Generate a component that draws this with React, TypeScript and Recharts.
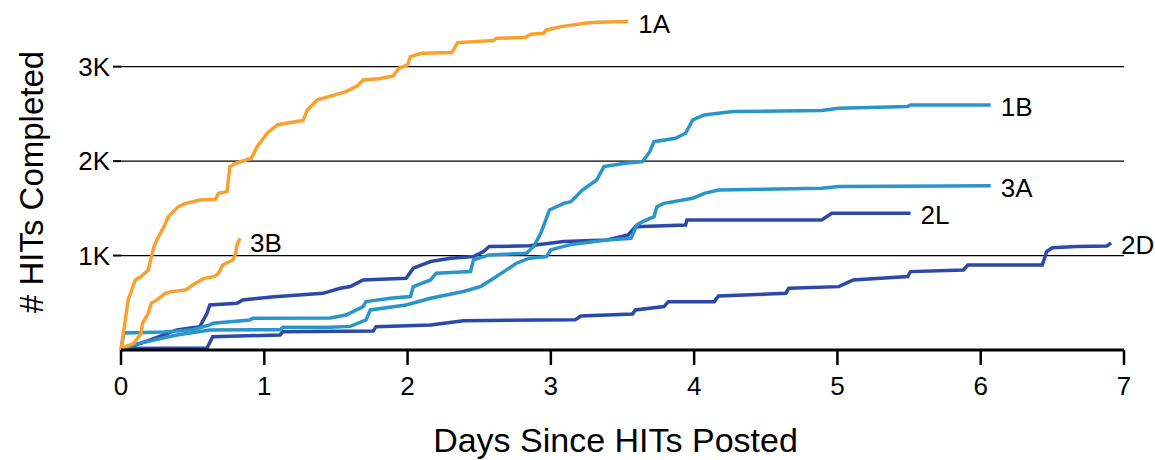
import { CartesianGrid, Line, LineChart, XAxis, YAxis } from "recharts";

// [days since posted, HITs completed]
const series1A = [
  [0, 0], [0.05, 530], [0.1, 741], [0.14, 777], [0.19, 847], [0.23, 1094], [0.25, 1165],
  [0.3, 1306], [0.33, 1412], [0.4, 1518], [0.45, 1553], [0.55, 1589], [0.66, 1596],
  [0.68, 1659], [0.74, 1677], [0.76, 1942], [0.8, 1977], [0.91, 2030], [0.95, 2153],
  [1.02, 2295], [1.09, 2383], [1.15, 2400], [1.27, 2429], [1.3, 2542], [1.37, 2648],
  [1.45, 2683], [1.57, 2736], [1.65, 2796], [1.69, 2859], [1.8, 2873], [1.9, 2902],
  [1.94, 2983], [2.0, 3018], [2.02, 3106], [2.1, 3142], [2.31, 3149], [2.35, 3255],
  [2.6, 3276], [2.62, 3301], [2.82, 3308], [2.86, 3343], [2.95, 3354], [2.97, 3389],
  [3.07, 3424], [3.24, 3459], [3.32, 3470], [3.54, 3477],
];

const series3B = [
  [0, 0], [0.03, 35], [0.09, 71], [0.14, 177], [0.15, 282], [0.19, 388], [0.21, 494],
  [0.25, 530], [0.31, 600], [0.35, 618], [0.45, 635], [0.5, 688], [0.58, 759],
  [0.65, 777], [0.68, 812], [0.71, 900], [0.78, 953], [0.8, 1024], [0.81, 1112], [0.83, 1183],
];

const series1B = [
  [0, 0], [0.02, 180], [0.3, 190], [0.5, 215], [0.62, 265], [0.64, 283], [0.9, 318],
  [0.92, 336], [1.46, 340], [1.57, 371], [1.69, 460], [1.71, 513], [1.88, 548],
  [2.02, 566], [2.04, 672], [2.16, 742], [2.2, 813], [2.44, 831], [2.46, 955],
  [2.57, 1007], [2.83, 1025], [2.88, 1096], [2.93, 1237], [2.97, 1400], [2.99, 1483],
  [3.09, 1553], [3.14, 1571], [3.22, 1694], [3.32, 1800], [3.37, 1942], [3.52, 1977],
  [3.64, 1994], [3.69, 2100], [3.72, 2206], [3.87, 2242], [3.94, 2295], [3.99, 2436],
  [4.07, 2489], [4.27, 2524], [4.89, 2535], [5.01, 2560], [5.49, 2577], [5.51, 2595],
  [6.07, 2595],
];

const series3A = [
  [0, 0], [0.1, 60], [0.3, 130], [0.39, 159], [0.62, 212], [1.11, 215], [1.13, 240],
  [1.46, 240], [1.6, 250], [1.71, 318], [1.74, 424], [1.99, 477], [2.16, 548],
  [2.39, 619], [2.51, 672], [2.62, 778], [2.69, 848], [2.76, 919], [2.85, 972],
  [2.97, 990], [3.0, 1060], [3.13, 1113], [3.39, 1165], [3.56, 1183], [3.6, 1324],
  [3.64, 1359], [3.72, 1412], [3.74, 1518], [3.79, 1553], [3.99, 1606], [4.07, 1659],
  [4.17, 1694], [4.89, 1712], [5.01, 1730], [5.76, 1737], [6.07, 1740],
];

const series2L = [
  [0, 0], [0.19, 100], [0.39, 212], [0.55, 247], [0.6, 389], [0.62, 477], [0.81, 495],
  [0.85, 530], [1.07, 565], [1.41, 600], [1.53, 654], [1.6, 672], [1.69, 742],
  [1.99, 760], [2.04, 866], [2.16, 937], [2.3, 972], [2.46, 990], [2.53, 1043],
  [2.57, 1096], [2.85, 1103], [3.09, 1149], [3.39, 1165], [3.54, 1218], [3.59, 1306],
  [3.94, 1324], [3.95, 1377], [4.89, 1377], [4.96, 1447], [5.51, 1447],
];

const series2D = [
  [0, 0], [0.02, 15], [0.6, 20], [0.64, 141], [1.11, 159], [1.13, 194], [1.76, 200],
  [1.78, 247], [2.16, 265], [2.39, 310], [3.17, 320], [3.21, 360], [3.57, 380],
  [3.59, 424], [3.79, 460], [3.82, 512], [4.14, 512], [4.17, 572], [4.64, 600],
  [4.66, 653], [5.01, 671], [5.11, 741], [5.49, 777], [5.51, 830], [5.88, 847],
  [5.91, 900], [6.43, 900], [6.46, 1042], [6.5, 1082], [6.67, 1095], [6.88, 1100],
  [6.91, 1135],
];

const dayTicks = [0, 1, 2, 3, 4, 5, 6, 7];
const hitTicks = [1000, 2000, 3000];

const ORANGE = "#F9A12E";
const LIGHT = "#2A95CA";
const DARK = "#2B49A7";
const FONT = "'Liberation Sans', Arial, Helvetica, sans-serif";

const toPoints = (s: number[][]) => s.map(([day, hits]) => ({ day, hits }));

const endLabel = (name: string, count: number, dy = 11) => (props: any) => {
  if (props.index !== count - 1) return null;
  return (
    <text x={props.x + 10} y={props.y + dy} fontSize={26} fill="#000" fontFamily={FONT}>
      {name}
    </text>
  );
};

const YLabel = (props: any) => {
  const vb = props.viewBox;
  const x = vb.x + 22;
  const y = vb.y + vb.height / 2 + 2;
  return (
    <text x={x} y={y} transform={`rotate(-90, ${x}, ${y})`} textAnchor="middle" fontSize={33} fill="#000" fontFamily={FONT}>
      # HITs Completed
    </text>
  );
};

const lines = [
  { name: "2D", data: series2D, color: DARK },
  { name: "2L", data: series2L, color: DARK },
  { name: "3A", data: series3A, color: LIGHT },
  { name: "1B", data: series1B, color: LIGHT },
  { name: "3B", data: series3B, color: ORANGE, dy: 14 },
  { name: "1A", data: series1A, color: ORANGE },
];

export default function App() {
  return (
    <div style={{ position: "absolute", left: 0, top: 0, background: "#fff" }}>
      <LineChart
        width={1155}
        height={460}
        margin={{ top: 10, right: 31, bottom: 0, left: 21 }}
        style={{ fontFamily: FONT }}
      >
        <CartesianGrid vertical={false} horizontalValues={hitTicks} stroke="#000" strokeWidth={1.2} />
        <XAxis
          type="number"
          dataKey="day"
          domain={[0, 7]}
          ticks={dayTicks}
          height={110}
          tickSize={15}
          tickMargin={12}
          axisLine={{ stroke: "#000", strokeWidth: 3 }}
          tickLine={{ stroke: "#000", strokeWidth: 2.5 }}
          tick={{ fontSize: 26, fill: "#000" }}
          label={{ value: "Days Since HITs Posted", position: "insideBottom", offset: 8, dx: -7, fontSize: 34, fill: "#000" }}
        />
        <YAxis
          type="number"
          dataKey="hits"
          domain={[0, 3600]}
          ticks={hitTicks}
          width={100}
          axisLine={false}
          tickSize={8}
          tickMargin={3}
          tickLine={{ stroke: "#000", strokeWidth: 2 }}
          tick={{ fontSize: 26, fill: "#000" }}
          tickFormatter={(v: number) => `${v / 1000}K`}
          label={<YLabel />}
        />
        {lines.map((l) => (
          <Line
            key={l.name}
            data={toPoints(l.data)}
            dataKey="hits"
            type="linear"
            stroke={l.color}
            strokeWidth={3.5}
            dot={false}
            isAnimationActive={false}
            label={endLabel(l.name, l.data.length, l.dy)}
          />
        ))}
      </LineChart>
    </div>
  );
}
